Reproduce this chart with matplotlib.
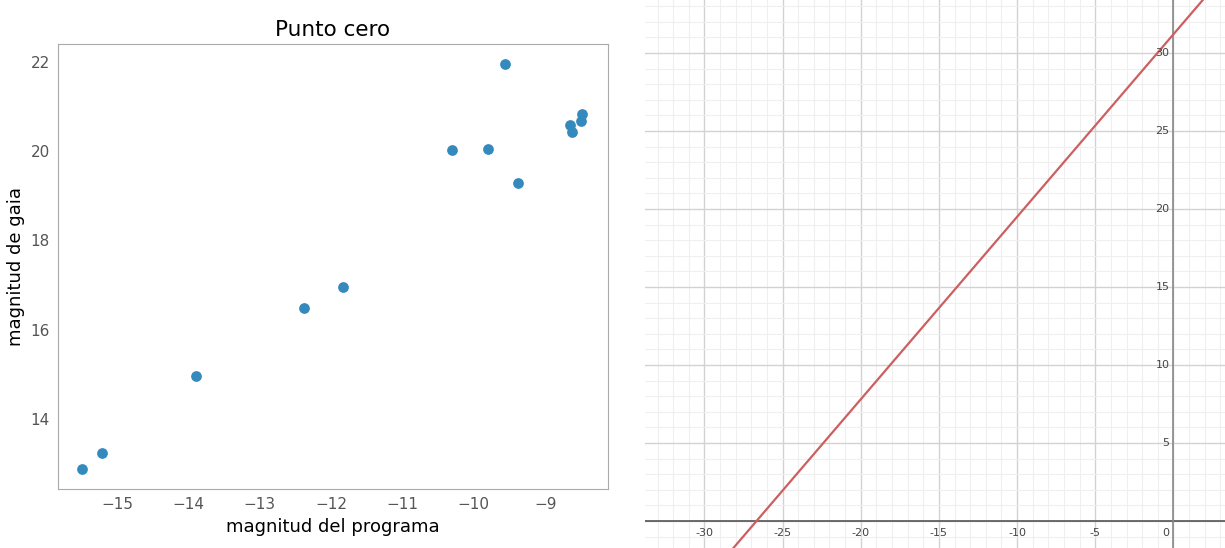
import numpy as np
import matplotlib
matplotlib.use("Agg")
import matplotlib.pyplot as plt
from matplotlib.ticker import MultipleLocator

# datos del panel izquierdo
mag_programa = [-15.49, -15.21, -13.90, -12.38, -11.83, -10.31, -9.80, -9.57, -9.38, -8.65, -8.62, -8.50, -8.48]
mag_gaia = [12.88, 13.24, 14.96, 16.49, 16.96, 20.03, 20.05, 21.96, 19.29, 20.59, 20.43, 20.68, 20.84]

# recta del panel derecho
pendiente = 1.17
ordenada = 31.2
x_ticks = [-30, -25, -20, -15, -10, -5]
y_ticks = [5, 10, 15, 20, 25, 30]

fig = plt.figure(figsize=(12.25, 5.48), dpi=100)

ax = fig.add_axes([58/1225, 59/548, 550/1225, 445/548])
ax.scatter(mag_programa, mag_gaia, s=45, color="#348ABD", zorder=3)
ax.set_xlim(-15.83, -8.12)
ax.set_ylim(12.43, 22.40)
ax.set_xticks([-15, -14, -13, -12, -11, -10, -9])
ax.set_yticks([14, 16, 18, 20, 22])
ax.tick_params(length=0, labelsize=11, labelcolor="#555555", pad=6)
for s in ax.spines.values():
	s.set_color("#aaaaaa")
ax.set_title("Punto cero", fontsize=15.5)
ax.set_xlabel("magnitud del programa", fontsize=13)
ax.set_ylabel("magnitud de gaia", fontsize=13)

# panel derecho (papel cuadriculado)
ax2 = fig.add_axes([645/1225, 0, 580/1225, 1])
ax2.set_xlim(-33.8, 3.3)
ax2.set_ylim(-1.73, 33.4)
ax2.xaxis.set_major_locator(MultipleLocator(5))
ax2.yaxis.set_major_locator(MultipleLocator(5))
ax2.xaxis.set_minor_locator(MultipleLocator(1))
ax2.yaxis.set_minor_locator(MultipleLocator(1))
ax2.grid(which="major", color="#d2d2d2", lw=1.0)
ax2.grid(which="minor", color="#efefef", lw=0.8)
ax2.set_axisbelow(True)
ax2.tick_params(which="both", length=0, labelbottom=False, labelleft=False)
for s in ax2.spines.values():
	s.set_visible(False)
ax2.axhline(0, color="#555555", lw=1.2)
ax2.axvline(0, color="#888888", lw=1.2)

xs = np.array(ax2.get_xlim())
ax2.plot(xs, pendiente * xs + ordenada, color="#cc5f5f", lw=1.6)

for t in x_ticks:
	ax2.text(t, -0.45, str(t), ha="center", va="top", fontsize=8, color="#444444")
ax2.text(-0.25, -0.45, "0", ha="right", va="top", fontsize=8, color="#444444")
for t in y_ticks:
	ax2.text(-0.25, t, str(t), ha="right", va="center", fontsize=8, color="#444444")

fig.savefig("out.png", dpi=100)
